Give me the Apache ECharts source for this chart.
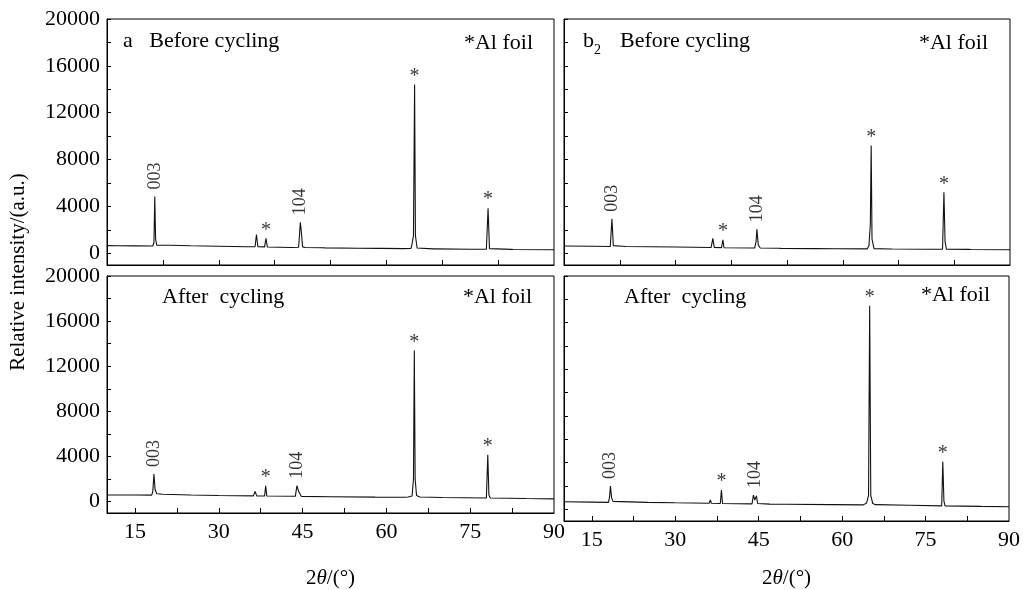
<!DOCTYPE html>
<html><head><meta charset="utf-8">
<script src="https://cdn.jsdelivr.net/npm/echarts@6/dist/echarts.min.js"></script>
<style>html,body{margin:0;padding:0;background:#fff}#c{width:1023px;height:590px}</style>
</head><body><div id="c"></div>
<script>
// ---- data (2θ in degrees, relative intensity) ----
const beforeA = [[10,650],[12,640],[15,630],[18.2,620],[18.4,900],[18.55,4850],[18.7,1200],[18.9,700],[20.5,680],[20.8,780],[21.2,680],[25,640],[30,600],[35,560],[36.5,560],[36.75,1600],[37.0,560],[38.2,550],[38.45,1280],[38.7,540],[43,500],[44.3,520],[44.6,2650],[44.75,2000],[45.0,550],[45.5,500],[48.5,470],[48.7,560],[49,460],[55,430],[58.5,420],[58.8,520],[59.1,420],[63,400],[64.4,420],[64.6,800],[64.85,1500],[65.05,14400],[65.2,1500],[65.5,450],[68.3,380],[68.5,450],[68.7,380],[75,350],[77.9,350],[78.2,3850],[78.45,400],[82.3,330],[82.5,400],[82.7,320],[90,300]];
const beforeB2 = [[10,620],[15,600],[18.3,580],[18.6,2950],[18.85,650],[20.5,600],[20.8,650],[21.1,580],[30,540],[36.4,500],[36.7,1280],[36.95,500],[38.25,480],[38.5,1150],[38.7,470],[44.2,450],[44.45,1000],[44.6,2050],[44.85,700],[45.2,450],[48.5,430],[48.7,520],[48.9,420],[55,400],[58.6,390],[58.8,470],[59.0,390],[64.4,380],[64.7,650],[64.95,2500],[65.1,9200],[65.25,1200],[65.6,400],[68.5,370],[68.7,420],[68.9,365],[75,340],[77.9,340],[78.15,5200],[78.35,1000],[78.6,350],[82.6,330],[82.8,380],[83,325],[90,300]];
const afterA = [[10,600],[15,590],[18.0,580],[18.2,900],[18.4,2450],[18.6,1100],[18.9,700],[20,660],[25,600],[30,550],[36.2,520],[36.5,900],[36.8,520],[38.2,510],[38.4,1420],[38.6,500],[43.7,480],[44.0,1420],[44.3,900],[44.6,750],[44.8,470],[50,440],[58,410],[63.5,400],[63.7,500],[63.9,420],[64.6,500],[64.85,2000],[65.0,13400],[65.15,2000],[65.4,550],[66,420],[70,380],[77.9,330],[78.15,4150],[78.35,600],[78.6,330],[85,280],[90,250]];
const afterB2 = [[10,650],[15,620],[18.0,600],[18.2,1100],[18.35,2000],[18.55,1000],[18.8,680],[25,600],[30,560],[36.1,520],[36.3,800],[36.5,520],[38.1,500],[38.3,1650],[38.5,500],[43.8,470],[44.05,1220],[44.3,800],[44.6,1150],[44.8,500],[47,450],[50,430],[57.9,400],[58.1,470],[58.3,400],[63.8,380],[64.4,550],[64.75,1200],[64.95,17450],[65.15,1200],[65.5,500],[66,400],[72,350],[77.9,300],[78.1,4070],[78.3,700],[78.5,300],[85,250],[90,220]];

// peak annotations: [2θ, intensity, text]
const peaksBeforeA  = [[18.55,4850,'003'],[38.45,1280,'*'],[44.6,2650,'104'],[65.05,14400,'*'],[78.2,3850,'*']];
const peaksBeforeB2 = [[18.6,2950,'003'],[38.5,1150,'*'],[44.6,2050,'104'],[65.1,9200,'*'],[78.15,5200,'*']];
const peaksAfterA   = [[18.4,2450,'003'],[38.4,1420,'*'],[44.0,1420,'104'],[65.0,13400,'*'],[78.15,4150,'*']];
const peaksAfterB2  = [[18.35,2000,'003'],[38.3,1650,'*'],[44.3,1220,'104'],[64.95,17450,'*'],[78.1,4070,'*']];

// axis ticks / labels
const xTicksTop = [20,30,40,50,60,70,80];
const xTicksBottom = [15,22.5,30,37.5,45,52.5,60,67.5,75,82.5];
const xLabels = [15,30,45,60,75,90];
const yTicks = [0,2000,4000,6000,8000,10000,12000,14000,16000,18000,20000];
const yLabels = [0,4000,8000,12000,16000,20000];

const FONT = 'Liberation Serif';
const grids = [
  {left:107, top:19, width:447, height:246},
  {left:564, top:19, width:446, height:246},
  {left:107, top:276, width:447, height:246},
  {left:564, top:276, width:446, height:246}
].map(g => Object.assign(g, {show:true, borderColor:'#000', borderWidth:1, backgroundColor:'transparent'}));

function xAx(i, bottom, named){
  const a = {type:'value', gridIndex:i, min:10, max:90,
    axisLine:{show:true, onZero:false, lineStyle:{color:'#000', width:1}},
    axisTick:{show:true, inside:true, length:5, lineStyle:{color:'#000'}, customValues: bottom ? xTicksBottom : xTicksTop},
    axisLabel:{show:bottom, customValues:xLabels, formatter:v => String(v), color:'#000', fontFamily:FONT, fontSize:22, margin:8},
    splitLine:{show:false}};
  if (named){
    a.name = '2{i|θ}/(°)';
    a.nameLocation = 'middle';
    a.nameGap = named;
    a.nameTextStyle = {color:'#000', fontFamily:FONT, fontSize:21, rich:{i:{fontStyle:'italic', fontFamily:FONT, fontSize:21, color:'#000'}}};
  }
  return a;
}
function yAx(i, left){
  return {type:'value', gridIndex:i, min:-1000, max:20000,
    axisLine:{show:true, onZero:false, lineStyle:{color:'#000', width:1}},
    axisTick:{show:true, inside:true, length:4, lineStyle:{color:'#000'}, customValues:yTicks},
    axisLabel:{show:left, customValues:yLabels, formatter:v => String(v), color:'#000', fontFamily:FONT, fontSize:22, margin:7},
    splitLine:{show:false}};
}
function lineSeries(i, data){
  return {type:'line', xAxisIndex:i, yAxisIndex:i, data:data, showSymbol:false, symbol:'none',
    lineStyle:{color:'#111', width:1.1}, silent:true, animation:false};
}
function peakSeries(i, peaks){
  return {type:'scatter', xAxisIndex:i, yAxisIndex:i, symbolSize:0, silent:true, animation:false,
    data: peaks.map(p => {
      const star = p[2] === '*';
      return {value:[p[0], p[1]], label: star ?
        {show:true, formatter:p[2], position:'top', distance:-2, fontFamily:FONT, fontSize:20, color:'#000'} :
        {show:true, formatter:p[2], position:'top', distance:7, rotate:90, align:'left', verticalAlign:'middle', fontFamily:FONT, fontSize:18, color:'#000'}};
    })};
}
function txt(x, y, text, align, extra){
  return Object.assign({type:'text', x:x, y:y, silent:true,
    style:{text:text, fill:'#000', font:'22px "'+FONT+'"', textAlign:align||'left', textVerticalAlign:'middle'}}, extra||{});
}

const chart = echarts.init(document.getElementById('c'), null, {renderer:'canvas'});
chart.setOption({
  animation:false,
  backgroundColor:'#fff',
  grid: grids,
  xAxis:[xAx(0,false), xAx(1,false), xAx(2,true,55), xAx(3,true,47)],
  yAxis:[yAx(0,true), yAx(1,false), yAx(2,true), yAx(3,false)],
  series:[
    lineSeries(0, beforeA), lineSeries(1, beforeB2), lineSeries(2, afterA), lineSeries(3, afterB2),
    peakSeries(0, peaksBeforeA), peakSeries(1, peaksBeforeB2), peakSeries(2, peaksAfterA), peakSeries(3, peaksAfterB2)
  ],
  graphic:[
    txt(123, 41, 'a   Before cycling'),
    txt(533, 43, '*Al foil', 'right'),
    txt(583, 41, 'b'),
    {type:'text', x:594, y:50, silent:true, style:{text:'2', fill:'#000', font:'14px "'+FONT+'"', textAlign:'left', textVerticalAlign:'middle'}},
    txt(620, 41, 'Before cycling'),
    txt(988, 43, '*Al foil', 'right'),
    txt(162, 297, 'After  cycling'),
    txt(532, 297, '*Al foil', 'right'),
    txt(624, 297, 'After  cycling'),
    txt(990, 295, '*Al foil', 'right'),
    {type:'text', x:18, y:272, rotation:Math.PI/2, silent:true,
      style:{text:'Relative intensity/(a.u.)', fill:'#000', font:'21px "'+FONT+'"', textAlign:'center', textVerticalAlign:'middle'}}
  ]
});
</script></body></html>
